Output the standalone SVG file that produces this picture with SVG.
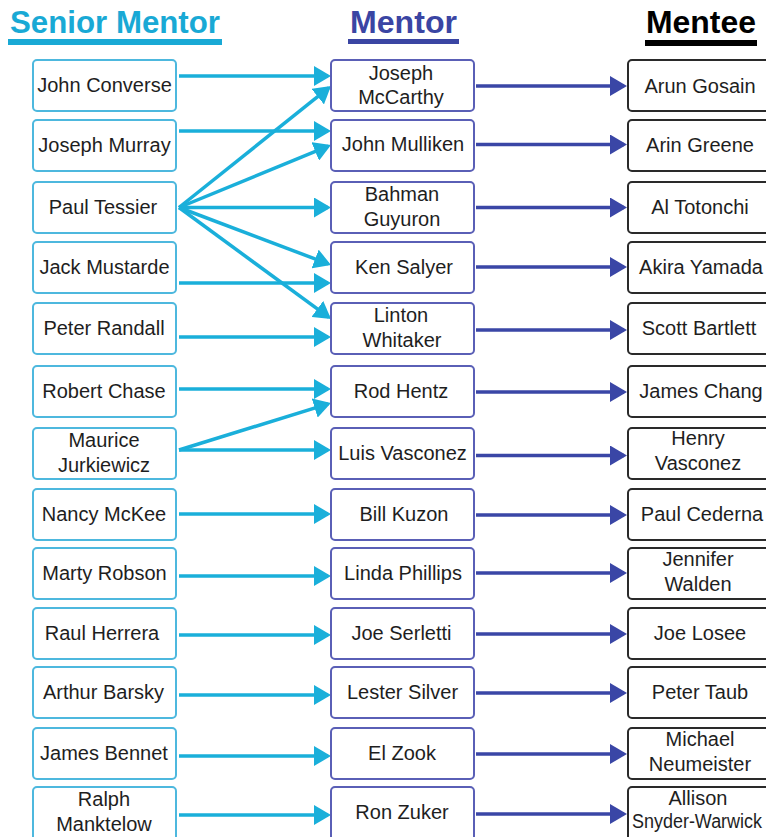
<svg xmlns="http://www.w3.org/2000/svg" width="766" height="837" viewBox="0 0 766 837">
<style>
  text { font-family: "Liberation Sans", Arial, sans-serif; fill: #1e1e1e; font-size: 20px; text-anchor: middle; }
  .hdr { font-weight: bold; font-size: 32px; text-anchor: start; }
  .sbox { fill: #fff; stroke: #4db8de; stroke-width: 2; }
  .mbox { fill: #fff; stroke: #5a5fb6; stroke-width: 2; }
  .ebox { fill: #fff; stroke: #2a2a2a; stroke-width: 2; }
  .c { stroke: #1aafda; stroke-width: 3.5; fill: none; marker-end: url(#ac); }
  .p { stroke: #3a46a6; stroke-width: 3.5; fill: none; marker-end: url(#ap); }
</style>
<defs>
  <marker id="ac" markerUnits="userSpaceOnUse" viewBox="0 0 17 20" markerWidth="17" markerHeight="20" refX="14" refY="10" orient="auto">
    <path d="M0,0 L17,10 L0,20 z" fill="#1aafda"/>
  </marker>
  <marker id="ap" markerUnits="userSpaceOnUse" viewBox="0 0 17 20" markerWidth="17" markerHeight="20" refX="14" refY="10" orient="auto">
    <path d="M0,0 L17,10 L0,20 z" fill="#3a46a6"/>
  </marker>
</defs>
<rect width="766" height="837" fill="#fff"/>

<g id="headers">
  <text class="hdr" x="10" y="33" style="fill:#19a9d5" textLength="210" lengthAdjust="spacingAndGlyphs">Senior Mentor</text>
  <rect x="8" y="39" width="214" height="6" fill="#19a9d5"/>
  <text class="hdr" x="350" y="33" style="fill:#3a45a3" textLength="107" lengthAdjust="spacingAndGlyphs">Mentor</text>
  <rect x="348" y="39" width="111" height="5" fill="#3a45a3"/>
  <text class="hdr" x="646" y="33" style="fill:#000" textLength="110" lengthAdjust="spacingAndGlyphs">Mentee</text>
  <rect x="645" y="40" width="112" height="6" fill="#000"/>
</g>

<g id="connectors">
  <path class="c" d="M179,76 H328"/>
  <path class="c" d="M179,207.5 L328.65,87.9"/>
  <path class="c" d="M179,131 H328"/>
  <path class="c" d="M179,207.5 L328.2,146.1"/>
  <path class="c" d="M179,207.5 H328"/>
  <path class="c" d="M179,207.5 L328.2,263.9"/>
  <path class="c" d="M179,283 H328"/>
  <path class="c" d="M179,207.5 L328.6,317.2"/>
  <path class="c" d="M179,337 H328"/>
  <path class="c" d="M179,389 H328"/>
  <path class="c" d="M179,450 L328.1,403.9"/>
  <path class="c" d="M179,450 H328"/>
  <path class="c" d="M179,514 H328"/>
  <path class="c" d="M179,576 H328"/>
  <path class="c" d="M179,635 H328"/>
  <path class="c" d="M179,695 H328"/>
  <path class="c" d="M179,756 H328"/>
  <path class="c" d="M179,815 H328"/>

  <path class="p" d="M476,86 H624"/>
  <path class="p" d="M476,144.5 H624"/>
  <path class="p" d="M476,207.5 H624"/>
  <path class="p" d="M476,267 H624"/>
  <path class="p" d="M476,330 H624"/>
  <path class="p" d="M476,392 H624"/>
  <path class="p" d="M476,455.5 H624"/>
  <path class="p" d="M476,515 H624"/>
  <path class="p" d="M476,573 H624"/>
  <path class="p" d="M476,634 H624"/>
  <path class="p" d="M476,693 H624"/>
  <path class="p" d="M476,754 H624"/>
  <path class="p" d="M476,814 H624"/>
</g>

<!-- Senior mentors -->
<g id="s-john-converse"><rect class="sbox" x="33" y="60" width="143" height="51" rx="4"/><text x="104.5" y="92">John Converse</text></g>
<g id="s-joseph-murray"><rect class="sbox" x="33" y="120" width="143" height="51" rx="4"/><text x="104.5" y="152">Joseph Murray</text></g>
<g id="s-paul-tessier"><rect class="sbox" x="33" y="182" width="143" height="51" rx="4"/><text x="103" y="214">Paul Tessier</text></g>
<g id="s-jack-mustarde"><rect class="sbox" x="33" y="242" width="143" height="51" rx="4"/><text x="104.5" y="274">Jack Mustarde</text></g>
<g id="s-peter-randall"><rect class="sbox" x="33" y="303" width="143" height="51" rx="4"/><text x="104" y="335">Peter Randall</text></g>
<g id="s-robert-chase"><rect class="sbox" x="33" y="366" width="143" height="51" rx="4"/><text x="104" y="398">Robert Chase</text></g>
<g id="s-maurice-jurkiewicz"><rect class="sbox" x="33" y="428" width="143" height="51" rx="4"/><text x="104" y="447">Maurice</text><text x="104" y="471.5">Jurkiewicz</text></g>
<g id="s-nancy-mckee"><rect class="sbox" x="33" y="489" width="143" height="51" rx="4"/><text x="104" y="521">Nancy McKee</text></g>
<g id="s-marty-robson"><rect class="sbox" x="33" y="548" width="143" height="51" rx="4"/><text x="104.5" y="580">Marty Robson</text></g>
<g id="s-raul-herrera"><rect class="sbox" x="33" y="608" width="143" height="51" rx="4"/><text x="102" y="640">Raul Herrera</text></g>
<g id="s-arthur-barsky"><rect class="sbox" x="33" y="667" width="143" height="51" rx="4"/><text x="103.5" y="699">Arthur Barsky</text></g>
<g id="s-james-bennet"><rect class="sbox" x="33" y="728" width="143" height="51" rx="4"/><text x="104" y="760">James Bennet</text></g>
<g id="s-ralph-manktelow"><rect class="sbox" x="33" y="787" width="143" height="60" rx="4"/><text x="104" y="806">Ralph</text><text x="104" y="831">Manktelow</text></g>

<!-- Mentors -->
<g id="m-joseph-mccarthy"><rect class="mbox" x="331" y="60" width="143" height="51" rx="4"/><text x="401" y="80">Joseph</text><text x="401" y="104">McCarthy</text></g>
<g id="m-john-mulliken"><rect class="mbox" x="331" y="120" width="143" height="51" rx="4"/><text x="403" y="151">John Mulliken</text></g>
<g id="m-bahman-guyuron"><rect class="mbox" x="331" y="182" width="143" height="51" rx="4"/><text x="402" y="201">Bahman</text><text x="402" y="226">Guyuron</text></g>
<g id="m-ken-salyer"><rect class="mbox" x="331" y="242" width="143" height="51" rx="4"/><text x="404" y="274">Ken Salyer</text></g>
<g id="m-linton-whitaker"><rect class="mbox" x="331" y="303" width="143" height="51" rx="4"/><text x="401" y="322">Linton</text><text x="402" y="347">Whitaker</text></g>
<g id="m-rod-hentz"><rect class="mbox" x="331" y="366" width="143" height="51" rx="4"/><text x="401" y="398">Rod Hentz</text></g>
<g id="m-luis-vasconez"><rect class="mbox" x="331" y="428" width="143" height="51" rx="4"/><text x="402.5" y="460">Luis Vasconez</text></g>
<g id="m-bill-kuzon"><rect class="mbox" x="331" y="489" width="143" height="51" rx="4"/><text x="404" y="521">Bill Kuzon</text></g>
<g id="m-linda-phillips"><rect class="mbox" x="331" y="548" width="143" height="51" rx="4"/><text x="403" y="580">Linda Phillips</text></g>
<g id="m-joe-serletti"><rect class="mbox" x="331" y="608" width="143" height="51" rx="4"/><text x="401.5" y="640">Joe Serletti</text></g>
<g id="m-lester-silver"><rect class="mbox" x="331" y="667" width="143" height="51" rx="4"/><text x="402.5" y="699">Lester Silver</text></g>
<g id="m-el-zook"><rect class="mbox" x="331" y="728" width="143" height="51" rx="4"/><text x="402" y="760">El Zook</text></g>
<g id="m-ron-zuker"><rect class="mbox" x="331" y="787" width="143" height="60" rx="4"/><text x="402" y="819">Ron Zuker</text></g>

<!-- Mentees -->
<g id="e-arun-gosain"><rect class="ebox" x="628" y="60" width="144" height="51" rx="4"/><text x="700" y="93">Arun Gosain</text></g>
<g id="e-arin-greene"><rect class="ebox" x="628" y="120" width="144" height="51" rx="4"/><text x="700" y="152">Arin Greene</text></g>
<g id="e-al-totonchi"><rect class="ebox" x="628" y="182" width="144" height="51" rx="4"/><text x="700" y="214">Al Totonchi</text></g>
<g id="e-akira-yamada"><rect class="ebox" x="628" y="242" width="144" height="51" rx="4"/><text x="701" y="274">Akira Yamada</text></g>
<g id="e-scott-bartlett"><rect class="ebox" x="628" y="303" width="144" height="51" rx="4"/><text x="699" y="335">Scott Bartlett</text></g>
<g id="e-james-chang"><rect class="ebox" x="628" y="366" width="144" height="51" rx="4"/><text x="701" y="398">James Chang</text></g>
<g id="e-henry-vasconez"><rect class="ebox" x="628" y="428" width="144" height="51" rx="4"/><text x="698" y="445">Henry</text><text x="698" y="470">Vasconez</text></g>
<g id="e-paul-cederna"><rect class="ebox" x="628" y="489" width="144" height="51" rx="4"/><text x="702" y="521">Paul Cederna</text></g>
<g id="e-jennifer-walden"><rect class="ebox" x="628" y="548" width="144" height="51" rx="4"/><text x="698" y="566">Jennifer</text><text x="698" y="591">Walden</text></g>
<g id="e-joe-losee"><rect class="ebox" x="628" y="608" width="144" height="51" rx="4"/><text x="700" y="640">Joe Losee</text></g>
<g id="e-peter-taub"><rect class="ebox" x="628" y="667" width="144" height="51" rx="4"/><text x="700" y="699">Peter Taub</text></g>
<g id="e-michael-neumeister"><rect class="ebox" x="628" y="728" width="144" height="51" rx="4"/><text x="700" y="746">Michael</text><text x="700" y="771">Neumeister</text></g>
<g id="e-allison-snyder-warwick"><rect class="ebox" x="628" y="787" width="144" height="60" rx="4"/><text x="698" y="805">Allison</text><text x="697" y="828" font-size="19" textLength="130" lengthAdjust="spacingAndGlyphs">Snyder-Warwick</text></g>
</svg>
